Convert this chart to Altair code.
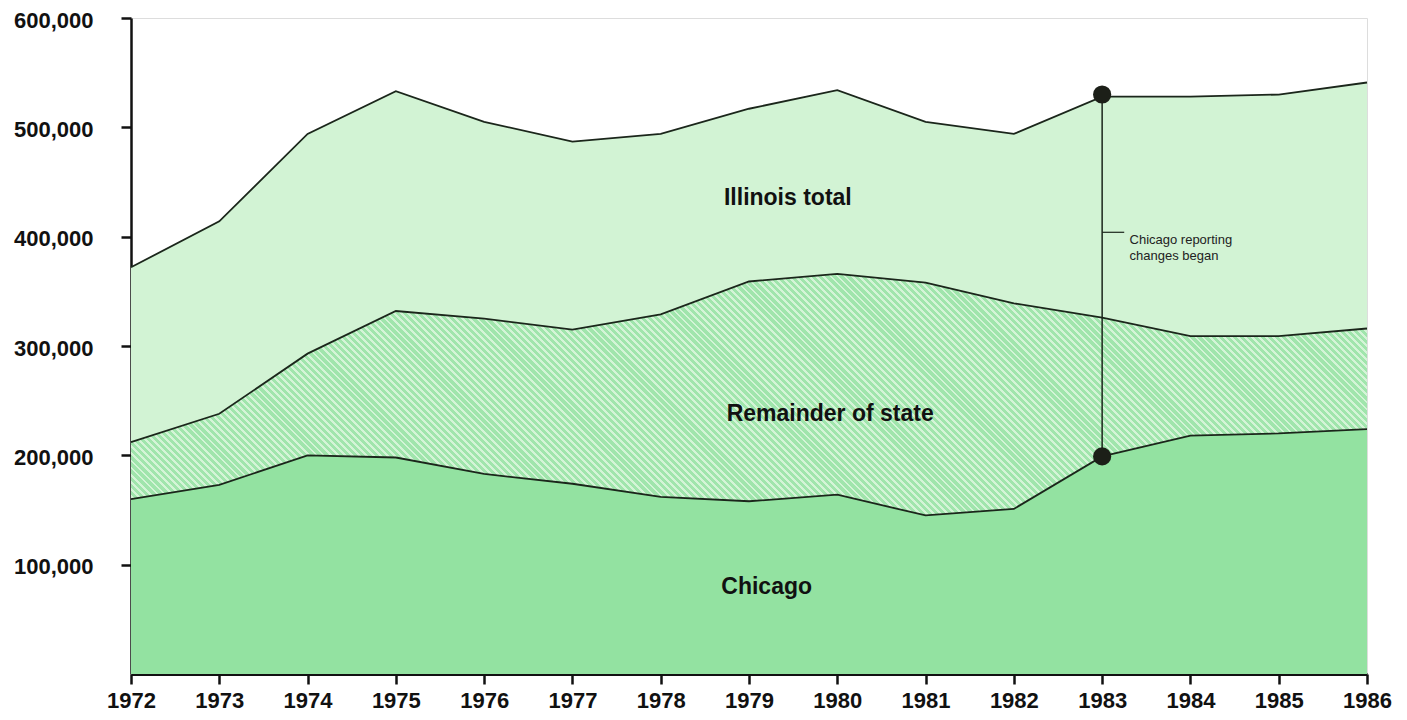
import altair as alt
import pandas as pd

# ---- data ----
years = list(range(1972, 1987))
chicago = [160000, 173000, 200000, 198000, 183000, 174000, 162000, 158000,
           164000, 145000, 151000, 199000, 218000, 220000, 224000]
remainder = [212000, 238000, 293000, 332000, 325000, 315000, 329000, 359000,
             366000, 358000, 339000, 326000, 309000, 309000, 316000]
total = [372000, 414000, 494000, 533000, 505000, 487000, 494000, 517000,
         534000, 505000, 494000, 528000, 528000, 530000, 541000]
y_ticks = [100000, 200000, 300000, 400000, 500000, 600000]

area_labels = ["Illinois total", "Remainder of state", "Chicago"]
area_label_x = [1979.44, 1979.92, 1979.2]
area_label_y = [435000, 238000, 80000]

change_year = 1983
note_lines = ["Chicago reporting", "changes began"]
note_y = 404000

# ---- layout ----
W, H = 1236, 656
YMAX = 600000
FONT = "Liberation Sans"

df = pd.DataFrame({"year": years, "chicago": chicago,
                   "remainder": remainder, "total": total})

x_enc = alt.X("year:Q", scale=alt.Scale(domain=[1972, 1986], nice=False, zero=False),
              axis=alt.Axis(values=years, labelExpr="format(datum.value, 'd')",
                            title=None, grid=False,
                            labelFont=FONT, labelFontSize=22, labelFontWeight="bold",
                            labelColor="#111", labelPadding=6, labelFlush=False,
                            labelOverlap=False,
                            tickSize=10, tickWidth=2.5, tickColor="#111",
                            domainWidth=3, domainColor="#111"))
y_scale = alt.Scale(domain=[0, YMAX], nice=False)
y_axis = alt.Axis(values=y_ticks, labelExpr="format(datum.value, ',')",
                  title=None, grid=False,
                  labelFont=FONT, labelFontSize=22, labelFontWeight="bold",
                  labelColor="#111", labelPadding=28, labelOffset=2,
                  tickSize=10, tickWidth=2.5, tickColor="#111",
                  domainWidth=2.5, domainColor="#111")

# hatch for the remainder area built from a striped linear gradient
r = (max(remainder) / YMAX * H) / W          # bbox height / width
s = (1 + r) / (1 + r ** 2)
x1, y1 = 0.0, 1.0
x2, y2 = s, 1.0 - r * s
L = (1 + r) * W / 2 ** 0.5                   # stripe-normal length in px
period_px = 5.0
light_px = 2.0
dark_c, light_c = "#a0e5ac", "#d4f4d7"
stops = []
i = 0
while i * period_px < L:
    a = i * period_px / L
    b = min((i * period_px + light_px) / L, 1)
    c = min((i + 1) * period_px / L, 1)
    stops += [alt.GradientStop(offset=a, color=light_c),
              alt.GradientStop(offset=b, color=light_c),
              alt.GradientStop(offset=b, color=dark_c),
              alt.GradientStop(offset=c, color=dark_c)]
    i += 1
hatch = alt.LinearGradient(gradient="linear", stops=stops,
                           x1=x1, y1=y1, x2=x2, y2=y2)

base = alt.Chart(df)

total_area = base.mark_area(color="#d2f3d4", opacity=1).encode(
    x=x_enc, y=alt.Y("total:Q", scale=y_scale, axis=y_axis))
rem_area = base.mark_area(color=hatch, opacity=1).encode(
    x="year:Q", y="remainder:Q")
chi_area = base.mark_area(color="#93e2a1", opacity=1).encode(
    x="year:Q", y="chicago:Q")

line_style = dict(color="#1b261b", strokeWidth=1.8)
total_line = base.mark_line(**line_style).encode(x="year:Q", y="total:Q")
rem_line = base.mark_line(**line_style).encode(x="year:Q", y="remainder:Q")
chi_line = base.mark_line(**line_style).encode(x="year:Q", y="chicago:Q")

i83 = years.index(change_year)
ann = pd.DataFrame({"year": [change_year], "lo": [chicago[i83]], "hi": [total[i83]]})
vrule = alt.Chart(ann).mark_rule(color="#1b261b", strokeWidth=1.5).encode(
    x="year:Q", y="lo:Q", y2="hi:Q")
dots_df = pd.DataFrame({"year": [change_year, change_year],
                        "v": [chicago[i83], total[i83] + 2000]})
dots = alt.Chart(dots_df).mark_point(filled=True, color="#1c1f18", opacity=1,
                                     size=330, shape="circle").encode(
    x="year:Q", y="v:Q")

note_df = pd.DataFrame({"year": [change_year], "x2": [change_year + 0.25],
                        "tx": [change_year + 0.31], "v": [note_y]})
note_tick = alt.Chart(note_df).mark_rule(color="#1b261b", strokeWidth=1.2).encode(
    x="year:Q", x2="x2:Q", y="v:Q")
note_text = alt.Chart(note_df).mark_text(
    text=note_lines, align="left", baseline="middle", lineHeight=16,
    font=FONT, fontSize=13, color="#222", dy=8).encode(x="tx:Q", y="v:Q")

lab_df = pd.DataFrame({"label": area_labels, "x": area_label_x, "y": area_label_y})
labels = alt.Chart(lab_df).mark_text(
    align="center", baseline="middle", font=FONT, fontSize=23,
    fontWeight="bold", color="#111").encode(x="x:Q", y="y:Q", text="label:N")

chart = alt.layer(total_area, rem_area, chi_area, total_line, rem_line, chi_line,
                  vrule, dots, note_tick, note_text, labels).properties(
    width=W, height=H,
    autosize=alt.AutoSizeParams(type="none"),
    padding={"left": 123, "top": 10, "right": 30, "bottom": 38},
).configure_view(stroke=None).configure(background="white")

chart.save("out.html", embed_options={"renderer": "svg", "actions": False})
